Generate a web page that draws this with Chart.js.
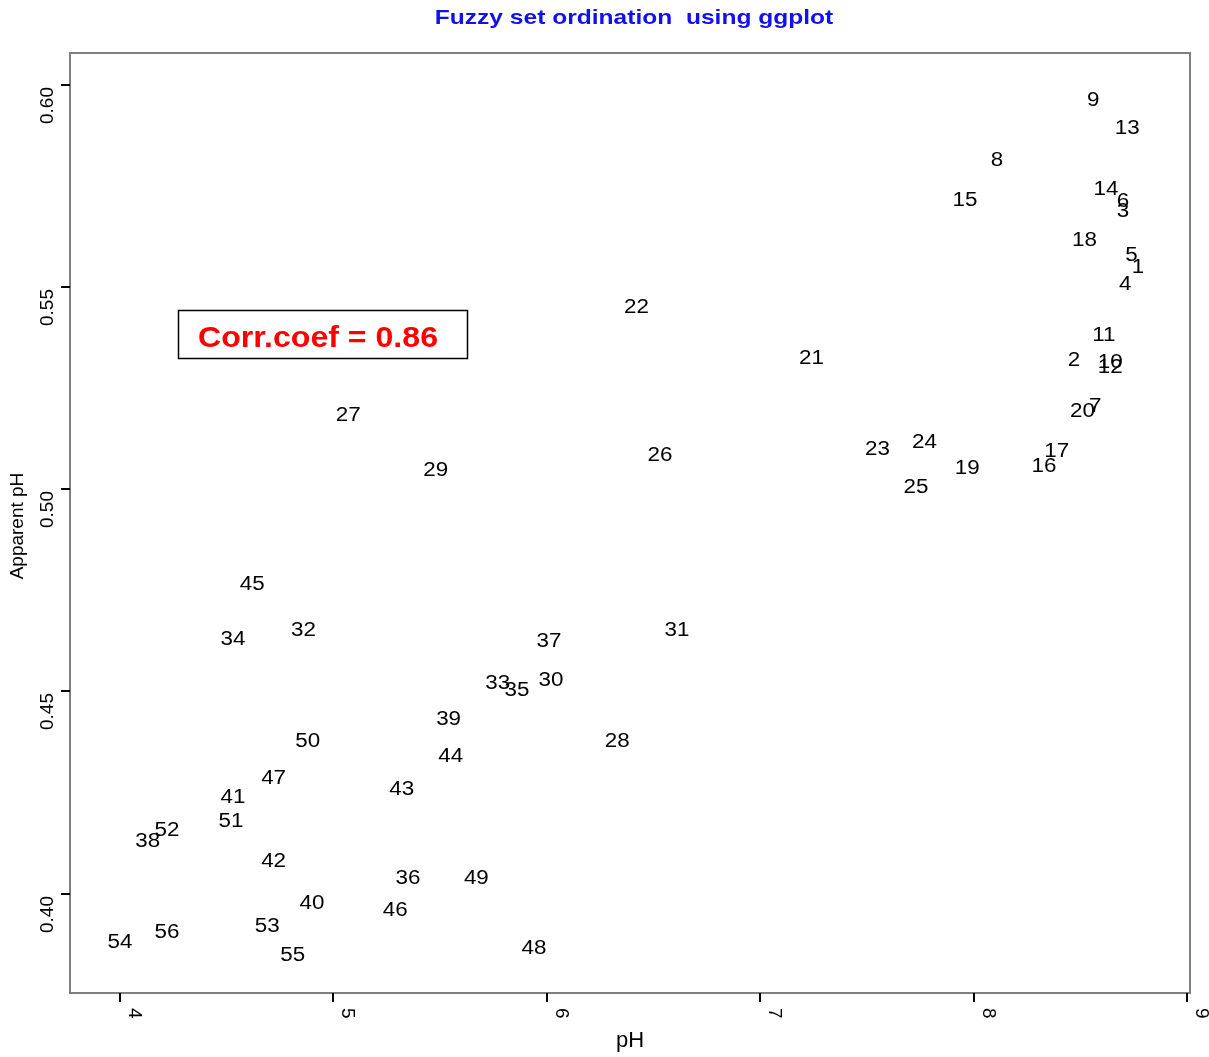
<!DOCTYPE html>
<html>
<head>
<meta charset="utf-8">
<script src="https://cdn.jsdelivr.net/npm/chart.js@4/dist/chart.umd.min.js"></script>
<style>
  html, body { margin: 0; padding: 0; background: #ffffff; }
  #wrap { width: 1209px; height: 1057px; }
</style>
</head>
<body>
<div id="wrap"><canvas id="c" width="1209" height="1057"></canvas></div>
<script>
// Site labels
const siteIds = [
  '1','2','3','4','5','6','7','8','9','10',
  '11','12','13','14','15','16','17','18','19','20',
  '21','22','23','24','25','26','27','28','29','30',
  '31','32','33','34','35','36','37','38','39','40',
  '41','42','43','44','45','46','47','48','49','50',
  '51','52','53','54','55','56'
];
// Measured pH
const phValues = [
  8.77, 8.47, 8.70, 8.71, 8.74, 8.70, 8.57, 8.11, 8.56, 8.64,
  8.61, 8.64, 8.72, 8.62, 7.96, 8.33, 8.39, 8.52, 7.97, 8.51,
  7.24, 6.42, 7.55, 7.77, 7.73, 6.53, 5.07, 6.33, 5.48, 6.02,
  6.61, 4.86, 5.77, 4.53, 5.86, 5.35, 6.01, 4.13, 5.54, 4.90,
  4.53, 4.72, 5.32, 5.55, 4.62, 5.29, 4.72, 5.94, 5.67, 4.88,
  4.52, 4.22, 4.69, 4.00, 4.81, 4.22
];
// Apparent pH from the fuzzy set ordination
const apparentValues = [
  0.5552, 0.5320, 0.5690, 0.5510, 0.5580, 0.5713, 0.5206, 0.5815, 0.5963, 0.5315,
  0.5384, 0.5303, 0.5894, 0.5743, 0.5716, 0.5058, 0.5097, 0.5617, 0.5053, 0.5196,
  0.5327, 0.5453, 0.5100, 0.5117, 0.5008, 0.5085, 0.5186, 0.4378, 0.5048, 0.4529,
  0.4652, 0.4652, 0.4521, 0.4632, 0.4504, 0.4039, 0.4625, 0.4130, 0.4432, 0.3977,
  0.4239, 0.4083, 0.4261, 0.4341, 0.4766, 0.3960, 0.4286, 0.3866, 0.4039, 0.4378,
  0.4180, 0.4158, 0.3920, 0.3881, 0.3849, 0.3905
];
const xTicks = [4, 5, 6, 7, 8, 9];
const yTicks = [0.40, 0.45, 0.50, 0.55, 0.60];
const yTickLabels = ['0.40', '0.45', '0.50', '0.55', '0.60'];
const corrText = 'Corr.coef = 0.86';
const chartTitle = 'Fuzzy set ordination  using ggplot';

const points = phValues.map((v, i) => ({ x: v, y: apparentValues[i] }));

// draw text stretched horizontally around its anchor
function wideText(ctx, text, x, y, sx) {
  ctx.save();
  ctx.translate(x, y);
  ctx.scale(sx, 1);
  ctx.fillText(text, 0, 0);
  ctx.restore();
}

const frameAndLabels = {
  id: 'frameAndLabels',
  afterDraw(chart) {
    const { ctx, chartArea: a, scales } = chart;
    const xs = scales.x, ys = scales.y;
    ctx.save();

    // site numbers at each point
    ctx.fillStyle = '#000000';
    ctx.font = '20px "Liberation Sans", Arial, sans-serif';
    ctx.textAlign = 'center';
    ctx.textBaseline = 'middle';
    const meta = chart.getDatasetMeta(0);
    meta.data.forEach((el, i) => wideText(ctx, siteIds[i], el.x, el.y + 1, 1.12));

    // panel frame
    ctx.strokeStyle = '#7f7f7f';
    ctx.lineWidth = 2;
    ctx.strokeRect(a.left, a.top, a.right - a.left, a.bottom - a.top);

    // x ticks
    ctx.strokeStyle = '#000000';
    ctx.lineWidth = 2;
    ctx.font = '19px "Liberation Sans", Arial, sans-serif';
    xTicks.forEach(t => {
      const px = Math.round(xs.getPixelForValue(t));
      ctx.beginPath();
      ctx.moveTo(px, a.bottom);
      ctx.lineTo(px, a.bottom + 9);
      ctx.stroke();
      ctx.save();
      ctx.translate(px + 14, a.bottom + 15);
      ctx.rotate(Math.PI / 2);
      ctx.textAlign = 'left';
      ctx.textBaseline = 'middle';
      ctx.fillText(String(t), 0, 0);
      ctx.restore();
    });

    // y ticks
    yTicks.forEach((t, i) => {
      const py = Math.round(ys.getPixelForValue(t));
      ctx.beginPath();
      ctx.moveTo(a.left - 9, py);
      ctx.lineTo(a.left, py);
      ctx.stroke();
      ctx.save();
      ctx.translate(48, py + 2);
      ctx.rotate(-Math.PI / 2);
      ctx.textAlign = 'right';
      ctx.textBaseline = 'middle';
      ctx.fillText(yTickLabels[i], 0, 0);
      ctx.restore();
    });

    // axis titles
    ctx.font = '22px "Liberation Sans", Arial, sans-serif';
    ctx.textAlign = 'center';
    ctx.textBaseline = 'middle';
    ctx.fillText('pH', 630, 1041);
    ctx.save();
    ctx.translate(18, 526);
    ctx.rotate(-Math.PI / 2);
    ctx.font = '19px "Liberation Sans", Arial, sans-serif';
    ctx.fillText('Apparent pH', 0, 0);
    ctx.restore();

    // title
    ctx.fillStyle = '#1010f0';
    ctx.font = 'bold 21px "Liberation Sans", Arial, sans-serif';
    wideText(ctx, chartTitle, 634, 18, 1.17);

    // correlation box
    ctx.strokeStyle = '#000000';
    ctx.lineWidth = 1.5;
    ctx.strokeRect(178.5, 310.5, 289, 48);
    ctx.fillStyle = '#ff0000';
    ctx.font = 'bold 30px "Liberation Sans", Arial, sans-serif';
    wideText(ctx, corrText, 318, 339, 1.07);

    ctx.restore();
  }
};

new Chart(document.getElementById('c'), {
  type: 'scatter',
  data: {
    datasets: [{
      data: points,
      pointRadius: 0,
      pointHoverRadius: 0,
      showLine: false
    }]
  },
  options: {
    responsive: false,
    animation: false,
    events: [],
    layout: { padding: { left: 70, right: 19, top: 53, bottom: 64 } },
    plugins: { legend: { display: false }, tooltip: { enabled: false }, title: { display: false } },
    scales: {
      x: { type: 'linear', min: 3.766, max: 9.014, display: false },
      y: { type: 'linear', min: 0.3754, max: 0.6079, display: false }
    }
  },
  plugins: [frameAndLabels]
});
</script>
</body>
</html>
